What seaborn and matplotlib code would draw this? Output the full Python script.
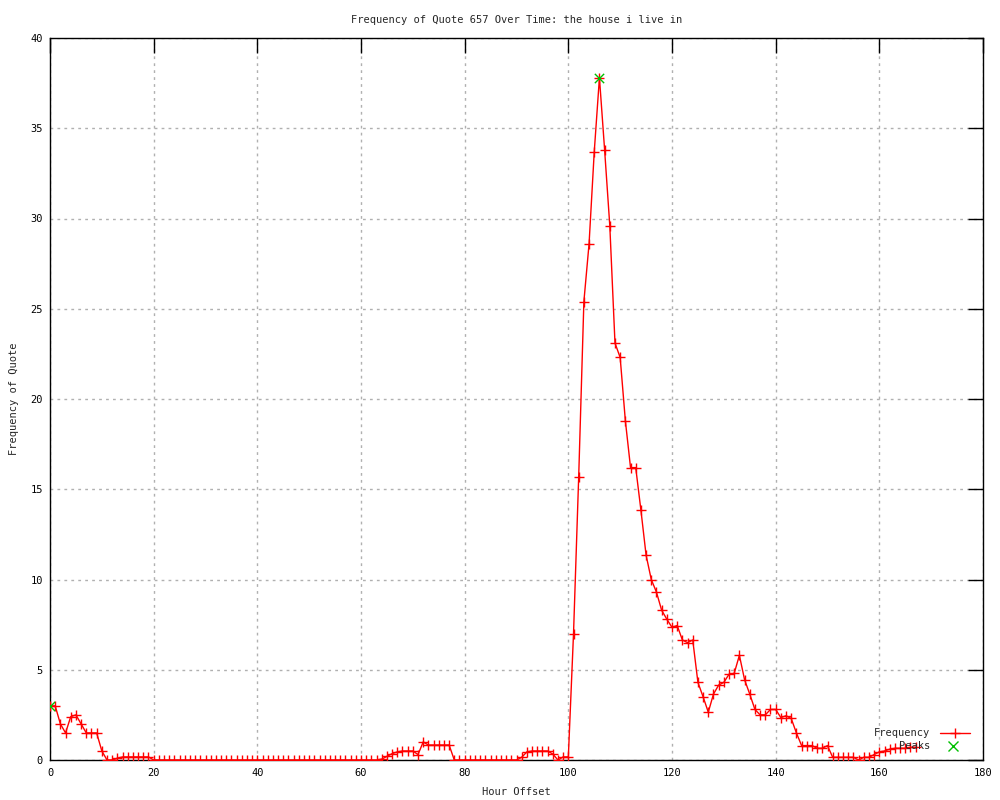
import matplotlib

matplotlib.use("Agg")

import matplotlib.pyplot as plt
import numpy as np
import pandas as pd
import seaborn as sns

# hourly frequency of the quote, hour 0 .. 167
freq = (
    [3.0, 3.0, 2.0, 1.5, 2.4, 2.5, 2.0, 1.5, 1.5, 1.5, 0.5, 0.0, 0.0, 0.1]
    + [0.17, 0.17, 0.17, 0.17, 0.17, 0.17]
    + [0.0] * 44
    + [0.05, 0.2, 0.35, 0.45, 0.5, 0.5, 0.5, 0.3, 1.0]
    + [0.83, 0.83, 0.83, 0.83, 0.83]
    + [0.0] * 13
    + [0.15, 0.45, 0.5, 0.5, 0.5, 0.5, 0.33, 0.0, 0.17, 0.17]
    + [7.0, 15.7, 25.4, 28.6, 33.7, 37.8, 33.8, 29.6, 23.1, 22.3,
       18.8, 16.2, 16.2, 13.85, 11.35, 10.0, 9.3, 8.3, 7.8, 7.35,
       7.45, 6.65, 6.5, 6.65, 4.3, 3.5, 2.65, 3.65, 4.15, 4.3,
       4.75, 4.8, 5.8, 4.45, 3.65, 2.8, 2.5, 2.5, 2.8, 2.8,
       2.35, 2.45, 2.3, 1.5, 0.8, 0.8, 0.8, 0.65, 0.65, 0.8]
    + [0.15, 0.15, 0.15, 0.15, 0.15]
    + [0.0, 0.15, 0.15, 0.3, 0.45, 0.5, 0.6, 0.65, 0.65, 0.65, 0.7, 0.7]
)
hours = list(range(len(freq)))

peak_hours = [0, 106]
peak_values = [3.0, 37.8]

x_ticks = [0, 20, 40, 60, 80, 100, 120, 140, 160, 180]
y_ticks = [0, 5, 10, 15, 20, 25, 30, 35, 40]

FS = 7.5

sns.set_style("white")
plt.rcParams["font.family"] = ["DejaVu Sans Mono", "DejaVu Sans"]
plt.rcParams["font.size"] = FS

df = pd.DataFrame({"hour": hours, "freq": freq})
peaks = pd.DataFrame({"hour": peak_hours, "freq": peak_values})

fig = plt.figure(figsize=(10, 8), dpi=100)
ax = fig.add_axes([0.05, 0.05, 0.933, 0.9025])

sns.lineplot(data=df, x="hour", y="freq", ax=ax, color="red", linewidth=1,
             marker="+", markersize=6.5, markeredgewidth=1, markeredgecolor="red",
             zorder=3)
sns.scatterplot(data=peaks, x="hour", y="freq", ax=ax, marker="x", s=45,
                color="#00c000", linewidth=1, zorder=4)

ax.set_xlim(0, 180)
ax.set_ylim(0, 40)
ax.set_xticks(x_ticks)
ax.set_yticks(y_ticks)
ax.grid(True, color="#b0b0b0", linestyle=(0, (2, 3)), linewidth=1)
ax.tick_params(direction="in", length=11, width=1, top=True, right=True,
               labelsize=FS, colors="black")
ax.tick_params(axis="x", pad=6)
ax.tick_params(axis="y", pad=5)
for sp in ax.spines.values():
    sp.set_color("black")
    sp.set_linewidth(1)

ax.set_title("Frequency of Quote 657 Over Time: the house i live in",
             fontsize=FS, pad=11)
ax.set_xlabel("Hour Offset", fontsize=FS, labelpad=6)
ax.set_ylabel("Frequency of Quote", fontsize=FS, labelpad=8)

# gnuplot style key, text right aligned in front of the sample
ax.text(0.943, 0.0374, "Frequency", transform=ax.transAxes, ha="right",
        va="center", fontsize=FS)
ax.plot([0.954, 0.986], [0.0374, 0.0374], transform=ax.transAxes,
        color="red", linewidth=1)
ax.plot([0.970], [0.0374], transform=ax.transAxes, color="red",
        marker="+", markersize=6.5, markeredgewidth=1)
ax.text(0.943, 0.0194, "Peaks", transform=ax.transAxes, ha="right",
        va="center", fontsize=FS)
ax.plot([0.968], [0.0194], transform=ax.transAxes, color="#00c000",
        marker="x", markersize=6.5, markeredgewidth=1)

fig.savefig("out.png", dpi=100)
plt.close(fig)
